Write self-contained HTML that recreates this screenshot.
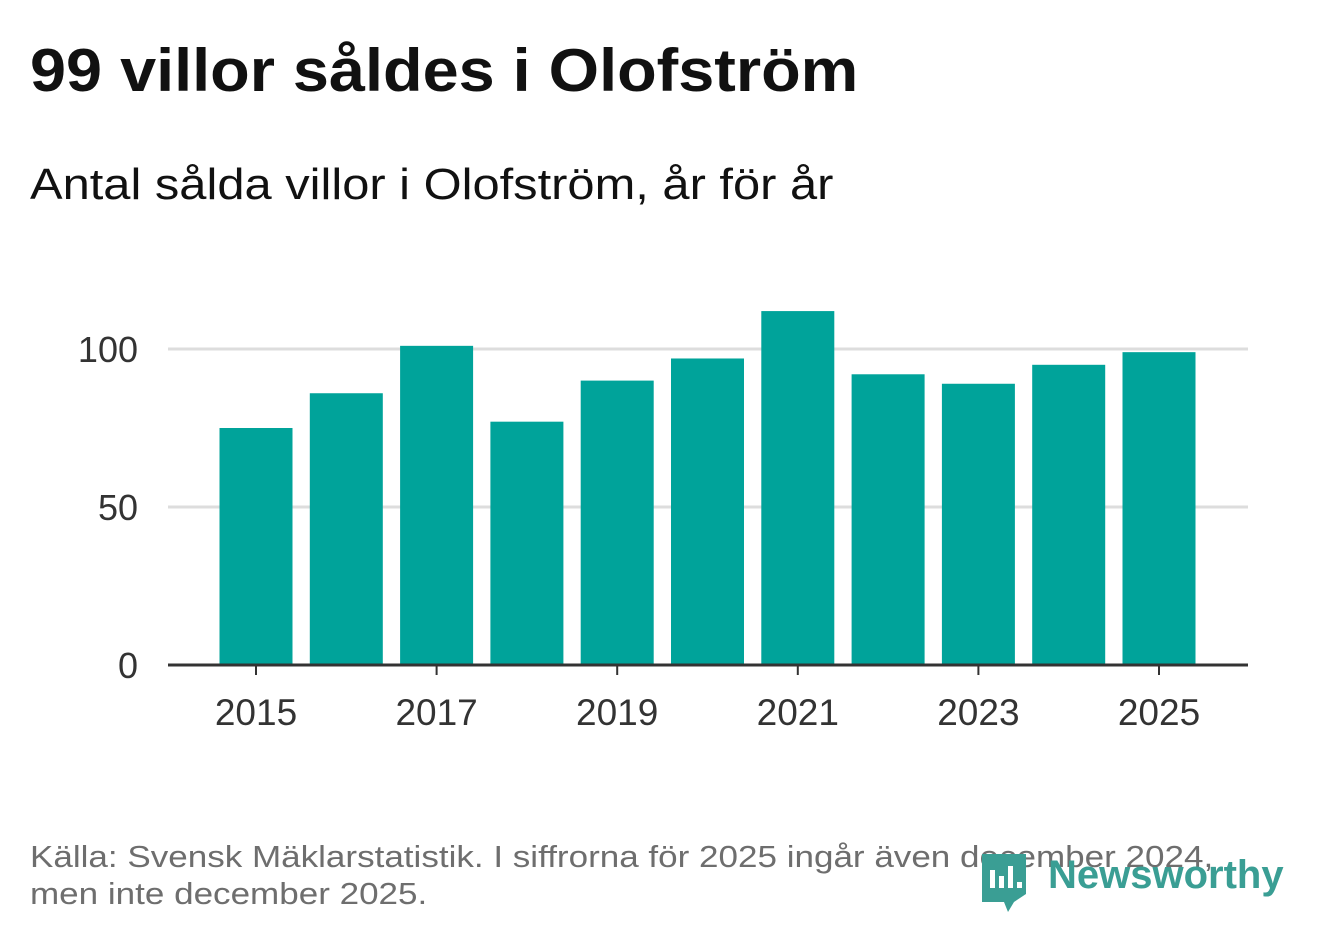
<!DOCTYPE html>
<html><head><meta charset="utf-8">
<style>
body{margin:0;background:#fff;width:1322px;height:939px;overflow:hidden;font-family:"Liberation Sans","DejaVu Sans",sans-serif;}
#title{position:absolute;left:30px;top:36px;font-size:60px;font-weight:bold;color:#111;margin:0;transform:scaleX(1.08);transform-origin:0 0;white-space:nowrap;}
#sub{position:absolute;left:30px;top:160px;font-size:44px;color:#111;transform:scaleX(1.11);transform-origin:0 0;white-space:nowrap;}
#note{position:absolute;left:30px;top:838px;font-size:31px;color:#6e6e6e;line-height:37px;transform:scaleX(1.13);transform-origin:0 0;white-space:nowrap;}
svg{position:absolute;left:0;top:0;}
</style></head><body>
<h1 id="title">99 villor såldes i Olofström</h1>
<div id="sub">Antal sålda villor i Olofström, år för år</div>
<svg id="chart" width="1322" height="939"></svg>
<div id="note">Källa: Svensk Mäklarstatistik. I siffrorna för 2025 ingår även december 2024,<br>men inte december 2025.</div>
<svg id="logo" width="320" height="70" style="left:980px;top:848px">
<path d="M2 6 h44 v40 l-12 8 l-6 10 l-4-10 h-22z" fill="#3a9e94"/>
<rect x="10" y="22" width="5" height="18" fill="#fff"/><rect x="19" y="28" width="5" height="12" fill="#fff"/><rect x="28" y="18" width="5" height="22" fill="#fff"/><rect x="37" y="34" width="5" height="6" fill="#fff"/>
<text x="68" y="40" font-family="Liberation Sans, sans-serif" font-size="40" font-weight="bold" fill="#3a9e94">Newsworthy</text>
</svg>
<script>
const years=[2015,2016,2017,2018,2019,2020,2021,2022,2023,2024,2025];
const values=[75,86,101,77,90,97,112,92,89,95,99];
const yTicks=[0,50,100];
const xTickYears=[2015,2017,2019,2021,2023,2025];
const svg=document.getElementById('chart');
const NS='http://www.w3.org/2000/svg';
const y0=665,pxPer=3.16;
const yS=v=>y0-v*pxPer;
const xS=yr=>256+(yr-2015)*90.3;
function mk(t,a){const e=document.createElementNS(NS,t);for(const k in a)e.setAttribute(k,a[k]);svg.appendChild(e);return e;}
yTicks.forEach(t=>{
 if(t>0){const g=mk('line',{x1:168,x2:1248,y1:yS(t),y2:yS(t),stroke:'#dddddd','stroke-width':3});
 
 }
 const l=mk('text',{x:138,y:yS(t)+13,'text-anchor':'end','font-size':36,fill:'#333'});
 l.textContent=t;
 
 
});
years.forEach((yr,i)=>{
 const r=mk('rect',{x:xS(yr)-36.5,y:yS(values[i]),width:73,height:values[i]*pxPer,fill:'#00a39a'});
 
 
});
const ax=mk('line',{x1:168,x2:1248,y1:y0,y2:y0,stroke:'#333','stroke-width':3});


xTickYears.forEach(yr=>{
 const t=mk('line',{x1:xS(yr),x2:xS(yr),y1:y0,y2:y0+10,stroke:'#333','stroke-width':2});
 
 
 const l=mk('text',{x:xS(yr),y:725,'text-anchor':'middle','font-size':37,fill:'#333'});
 l.textContent=yr;
 
 
});
</script>
</body></html>
